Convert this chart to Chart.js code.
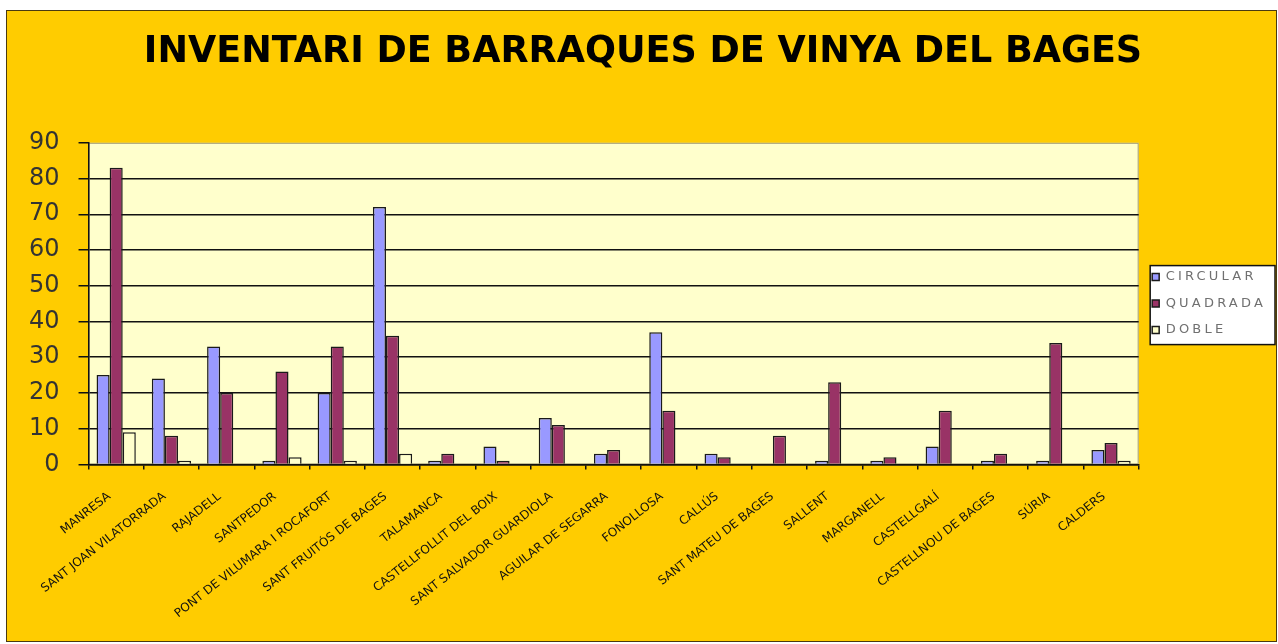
<!DOCTYPE html>
<html>
<head>
<meta charset="utf-8">
<script src="https://cdn.jsdelivr.net/npm/chart.js@4.4.1/dist/chart.umd.min.js"></script>
<style>
  html, body { margin: 0; padding: 0; background: #ffffff; }
  #frame {
    position: absolute; left: 6px; top: 10px;
    width: 1269px; height: 630px;
    border: 1px solid #4a3a10;
    background: #FFCC00;
  }
</style>
</head>
<body>
<div id="frame"><canvas id="barraques"></canvas></div>
<script>
var municipis = [
  "MANRESA", "SANT JOAN VILATORRADA", "RAJADELL", "SANTPEDOR",
  "PONT DE VILUMARA I ROCAFORT", "SANT FRUITÓS DE BAGES", "TALAMANCA",
  "CASTELLFOLLIT DEL BOIX", "SANT SALVADOR GUARDIOLA", "AGUILAR DE SEGARRA",
  "FONOLLOSA", "CALLÚS", "SANT MATEU DE BAGES", "SALLENT", "MARGANELL",
  "CASTELLGALÍ", "CASTELLNOU DE BAGES", "SÚRIA", "CALDERS"
];
var circular = [25, 24, 33, 1, 20, 72, 1, 5, 13, 3, 37, 3, 0, 1, 1, 5, 1, 1, 4];
var quadrada = [83, 8, 20, 26, 33, 36, 3, 1, 11, 4, 15, 2, 8, 23, 2, 15, 3, 34, 6];
var doble    = [9, 1, 0, 2, 1, 3, 0, 0, 0, 0, 0, 0, 0, 0, 0, 0, 0, 0, 1];
var yTicks = [0, 10, 20, 30, 40, 50, 60, 70, 80, 90];

// plot area fill + legend box, drawn before the scales
var fonsGrafic = {
  id: "fonsGrafic",
  beforeDraw: function (chart) {
    var ctx = chart.ctx;
    var a = chart.chartArea;
    ctx.save();
    ctx.fillStyle = "#FFFFCC";
    ctx.fillRect(a.left, a.top, a.right - a.left, a.bottom - a.top);
    ctx.strokeStyle = "#a09a70";
    ctx.lineWidth = 1;
    ctx.strokeRect(a.left + 0.5, a.top + 0.5, a.right - a.left - 1, a.bottom - a.top - 1);

    var hb = chart.legend.legendHitBoxes;
    if (hb && hb.length) {
      var first = hb[0];
      var last = hb[hb.length - 1];
      var x0 = first.left - 2;
      var y0 = first.top - 5;
      var x1 = chart.width - 1;
      var y1 = last.top + last.height + 8;
      ctx.fillStyle = "#ffffff";
      ctx.fillRect(x0, y0, x1 - x0, y1 - y0);
      ctx.strokeStyle = "#111";
      ctx.lineWidth = 1.5;
      ctx.strokeRect(x0, y0, x1 - x0, y1 - y0);
    }
    ctx.restore();
  }
};

// the legend text in the original is very wide: letter spacing while measuring and drawing it
var legendaAmple = {
  id: "legendaAmple",
  afterInit: function (chart) {
    var lg = chart.legend;
    if (!lg) return;
    ["fit", "draw"].forEach(function (fn) {
      var orig = lg[fn];
      lg[fn] = function () {
        var ctx = this.ctx;
        var old = ctx.letterSpacing;
        ctx.letterSpacing = "3.2px";
        var r = orig.apply(this, arguments);
        ctx.letterSpacing = old || "0px";
        return r;
      };
    });
  }
};

new Chart("barraques", {
  type: "bar",
  data: {
    labels: municipis,
    datasets: [
      {
        label: "CIRCULAR",
        data: circular,
        backgroundColor: "#9999FF",
        borderColor: "#1a1a1a",
        borderWidth: 1.5,
      },
      {
        label: "QUADRADA",
        data: quadrada,
        backgroundColor: "#993366",
        borderColor: "#1a1a1a",
        borderWidth: 1.5,
      },
      {
        label: "DOBLE",
        data: doble,
        backgroundColor: "#FFFFCC",
        borderColor: "#1a1a1a",
        borderWidth: 1.5,
      },
    ],
  },
  options: {
    responsive: true,
    maintainAspectRatio: false,
    animation: false,
    layout: { padding: { left: 3, right: 0, top: 0, bottom: 0 } },
    datasets: {
      bar: { categoryPercentage: 0.71, barPercentage: 1.0 },
    },
    plugins: {
      title: {
        display: true,
        text: "INVENTARI DE BARRAQUES DE VINYA DEL BAGES",
        color: "#000",
        font: { family: "DejaVu Sans", size: 36.5, weight: "bold" },
        padding: { top: 20, bottom: 68 },
      },
      legend: {
        position: "right",
        fullSize: false,
        labels: {
          color: "#707070",
          font: { family: "DejaVu Sans", size: 13 },
          boxWidth: 7,
          boxHeight: 7,
          padding: 13.5,
        },
      },
      tooltip: { enabled: false },
    },
    scales: {
      x: {
        offset: true,
        grid: {
          offset: true,
          drawOnChartArea: false,
          drawTicks: true,
          tickLength: 5,
          color: "#111",
          lineWidth: 1.5,
        },
        border: { display: true, color: "#111", width: 1.5 },
        ticks: {
          color: "#111",
          font: { family: "DejaVu Sans", size: 12 },
          minRotation: 38,
          maxRotation: 38,
          autoSkip: false,
          padding: 20,
          labelOffset: -7,
        },
      },
      y: {
        min: 0,
        max: 90,
        afterBuildTicks: function (axis) {
          axis.ticks = yTicks.map(function (v) { return { value: v }; });
        },
        grid: {
          color: function (c) {
            return c.tick && c.tick.value === 90 ? "rgba(0,0,0,0)" : "#111";
          },
          tickColor: "#111",
          lineWidth: 1.5,
          tickLength: 10,
        },
        border: { display: true, color: "#111", width: 1.5 },
        ticks: {
          color: "#333",
          font: { family: "DejaVu Sans", size: 24 },
          padding: 19,
        },
      },
    },
  },
  plugins: [fonsGrafic, legendaAmple],
});
</script>
</body>
</html>
